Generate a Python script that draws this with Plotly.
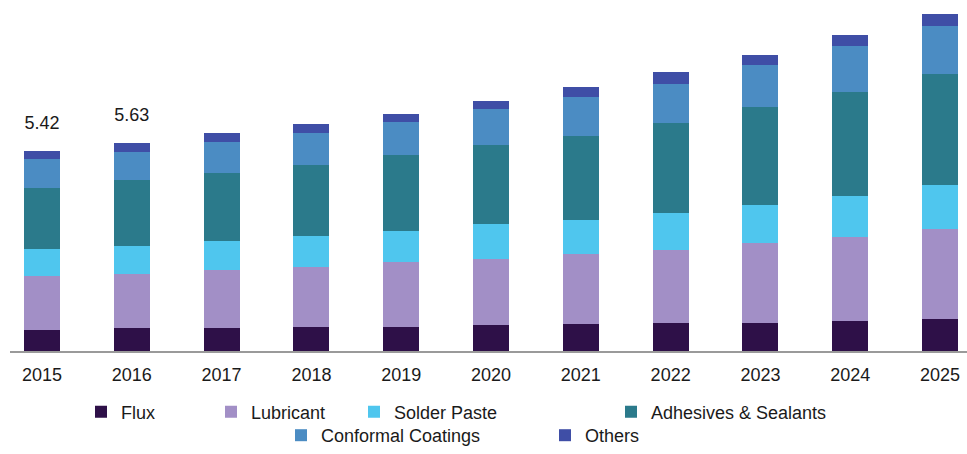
import plotly.graph_objects as go

years = ["2015", "2016", "2017", "2018", "2019", "2020", "2021", "2022", "2023", "2024", "2025"]

flux = [0.56, 0.62, 0.62, 0.66, 0.66, 0.71, 0.74, 0.75, 0.77, 0.81, 0.87]
lubricant = [1.47, 1.47, 1.56, 1.61, 1.74, 1.79, 1.87, 1.97, 2.14, 2.27, 2.43]
solder_paste = [0.72, 0.76, 0.80, 0.85, 0.85, 0.94, 0.93, 1.02, 1.05, 1.11, 1.19]
adhesives_sealants = [1.65, 1.78, 1.83, 1.92, 2.06, 2.14, 2.28, 2.42, 2.63, 2.80, 2.99]
conformal_coatings = [0.78, 0.76, 0.85, 0.85, 0.88, 0.96, 1.05, 1.06, 1.14, 1.25, 1.32]
others = [0.24, 0.24, 0.24, 0.24, 0.22, 0.21, 0.27, 0.32, 0.27, 0.30, 0.30]

labelled_years = ["2015", "2016"]

series = [
    ("Flux", flux, "#2e1048"),
    ("Lubricant", lubricant, "#a28fc6"),
    ("Solder Paste", solder_paste, "#4fc6ee"),
    ("Adhesives & Sealants", adhesives_sealants, "#2b7a8b"),
    ("Conformal Coatings", conformal_coatings, "#4b8cc3"),
    ("Others", others, "#3f4ea6"),
]

FONT = "Liberation Sans, Arial, sans-serif"

# one legend per entry so each can be placed on its own row/column
legend_pos = {
    "Flux": (95, 412),
    "Lubricant": (225, 412),
    "Solder Paste": (368, 412),
    "Adhesives & Sealants": (625, 412),
    "Conformal Coatings": (295, 437),
    "Others": (559, 437),
}

L, R, T, B = 10, 0, 0, 102
W, H = 967, 454
pw, ph = W - L - R, H - T - B

fig = go.Figure()
layout_legends = {}
for i, (name, vals, color) in enumerate(series):
    key = "legend" if i == 0 else f"legend{i + 1}"
    bar = go.Bar(
        x=years, y=vals, name=name,
        marker=dict(color=color, line=dict(width=0)),
    )
    if i > 0:
        bar.legend = key
    fig.add_trace(bar)
    px_x, px_y = legend_pos[name]
    layout_legends[key] = dict(
        x=(px_x - 14 - L) / pw, xanchor="left",
        y=(H - B - px_y) / ph, yanchor="middle",
        orientation="h", bgcolor="rgba(0,0,0,0)",
        font=dict(family=FONT, size=18, color="#1a1a1a"),
    )

# stack totals, shown above the first two bars
totals = [round(sum(v), 2) for v in zip(flux, lubricant, solder_paste,
                                          adhesives_sealants, conformal_coatings, others)]
lab_x = [yr for yr in years if yr in labelled_years]
lab_y = [tot for yr, tot in zip(years, totals) if yr in labelled_years]
fig.add_trace(go.Scatter(
    x=lab_x, y=lab_y, mode="markers+text",
    text=[f"{t:.2f}" for t in lab_y], textposition="top center",
    textfont=dict(family=FONT, size=18, color="#1a1a1a"),
    marker=dict(size=26, opacity=0),
    showlegend=False, hoverinfo="skip", cliponaxis=False,
))

fig.update_layout(
    width=W, height=H,
    margin=dict(l=L, r=R, t=T, b=B),
    barmode="stack", bargap=0.6,
    plot_bgcolor="white", paper_bgcolor="white",
    font=dict(family=FONT, size=18, color="#1a1a1a"),
    showlegend=True,
    xaxis=dict(
        type="category", range=[-0.356, 10.30],
        showline=True, linecolor="#9a9a9a", linewidth=2,
        ticks="outside", ticklen=6, tickcolor="rgba(0,0,0,0)",
        showgrid=False, tickfont=dict(family=FONT, size=18, color="#1a1a1a"),
    ),
    yaxis=dict(range=[0, 9.49], visible=False, showgrid=False),
    **layout_legends,
)

fig.write_html("out.html")
